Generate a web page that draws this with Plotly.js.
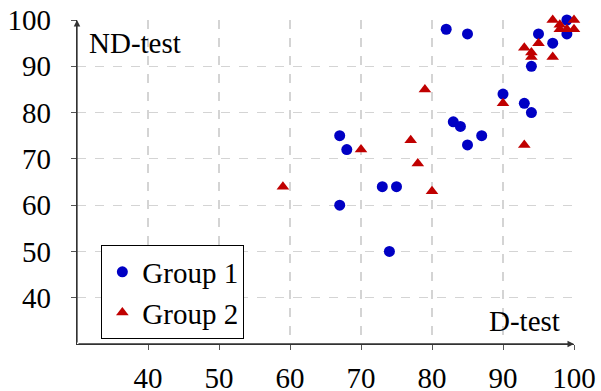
<!DOCTYPE html>
<html>
<head>
<meta charset="utf-8">
<script src="https://cdn.plot.ly/plotly-3.0.1.min.js"></script>
<style>
html,body{margin:0;padding:0;background:#fff;}
#chart{width:601px;height:391px;}
</style>
</head>
<body>
<div id="chart"></div>
<script>
const group1X = [82, 85, 95, 97, 99, 99, 94, 90, 93, 94, 83, 84, 87, 85, 67, 68, 73, 75, 67, 74];
const group1Y = [98, 97, 97, 95, 100, 97, 90, 84, 82, 80, 78, 77, 75, 73, 75, 72, 64, 64, 60, 50];
const group2X = [97, 98, 100, 98, 99, 100, 95, 93, 94, 94, 97, 79, 90, 77, 93, 70, 78, 80, 59];
const group2Y = [100, 99, 100, 98, 98, 98, 95, 94, 93, 92, 92, 85, 82, 74, 73, 72, 69, 63, 64];
const tickVals = [40, 50, 60, 70, 80, 90, 100];
const tickText = ['40', '50', '60', '70', '80', '90', '100'];
const seriesNames = ['Group 1', 'Group 2'];
const xTitle = 'D-test';
const yTitle = 'ND-test';

const FONT = '"Times New Roman", "Liberation Serif", serif';
const FS = 29;
const blue = '#0000c4';
const red = '#c00000';

const traces = [
  {x: group1X, y: group1Y, name: seriesNames[0], type: 'scatter', mode: 'markers',
   marker: {symbol: 'circle', size: 11, color: blue}, cliponaxis: false},
  {x: group2X, y: group2Y, name: seriesNames[1], type: 'scatter', mode: 'markers',
   marker: {symbol: 'triangle-up', size: 11, color: red}, cliponaxis: false}
];
const axisCommon = {
  range: [30, 100], tickmode: 'array', tickvals: tickVals, ticktext: tickText,
  showgrid: true, gridcolor: '#d4d4d4', griddash: 'dash', gridwidth: 1.2,
  zeroline: false, showline: true, linecolor: '#333', linewidth: 1.3,
  ticks: 'outside', ticklen: 5, tickcolor: '#555', tickwidth: 1, fixedrange: true,
  tickfont: {family: FONT, size: FS, color: '#000'}
};
const layout = {
  width: 601, height: 391,
  margin: {l: 77, r: 27, t: 20, b: 47},
  paper_bgcolor: '#fff', plot_bgcolor: '#fff',
  font: {family: FONT, size: FS, color: '#000'},
  xaxis: Object.assign({}, axisCommon, {ticklabelstandoff: 3}),
  yaxis: Object.assign({}, axisCommon, {ticklabelstandoff: 14}),
  xaxis2: {overlaying: 'x', range: [30, 100], tickmode: 'array', tickvals: tickVals,
    showticklabels: false, ticks: 'inside', ticklen: 5, tickcolor: '#555', showgrid: false,
    zeroline: false, showline: false, side: 'bottom', anchor: 'y'},
  yaxis2: {overlaying: 'y', range: [30, 100], tickmode: 'array', tickvals: tickVals,
    showticklabels: false, ticks: 'inside', ticklen: 5, tickcolor: '#555', showgrid: false,
    zeroline: false, showline: false, side: 'left', anchor: 'x'},
  showlegend: true,
  legend: {x: 0.049, y: 0.014, xanchor: 'left', yanchor: 'bottom',
    bgcolor: '#fff', bordercolor: '#000', borderwidth: 1,
    font: {family: FONT, size: FS, color: '#000'}, itemwidth: 30, tracegroupgap: 0},
  annotations: [
    {x: 100, y: 30, ax: 30, ay: 30, xref: 'x', yref: 'y', axref: 'x', ayref: 'y',
     text: '', showarrow: true, arrowhead: 2, arrowsize: 1, arrowwidth: 1.3, arrowcolor: '#333'},
    {x: 30, y: 100, ax: 30, ay: 30, xref: 'x', yref: 'y', axref: 'x', ayref: 'y',
     text: '', showarrow: true, arrowhead: 2, arrowsize: 1, arrowwidth: 1.3, arrowcolor: '#333'},
    {x: 0.975, y: 0.015, xref: 'paper', yref: 'paper', xanchor: 'right', yanchor: 'bottom',
     text: xTitle, showarrow: false, font: {family: FONT, size: FS, color: '#000'}},
    {x: 0.02, y: 0.985, xref: 'paper', yref: 'paper', xanchor: 'left', yanchor: 'top',
     text: yTitle, showarrow: false, font: {family: FONT, size: FS, color: '#000'}}
  ]
};

Plotly.newPlot('chart', traces, layout, {displayModeBar: false, staticPlot: true});
</script>
</body>
</html>
